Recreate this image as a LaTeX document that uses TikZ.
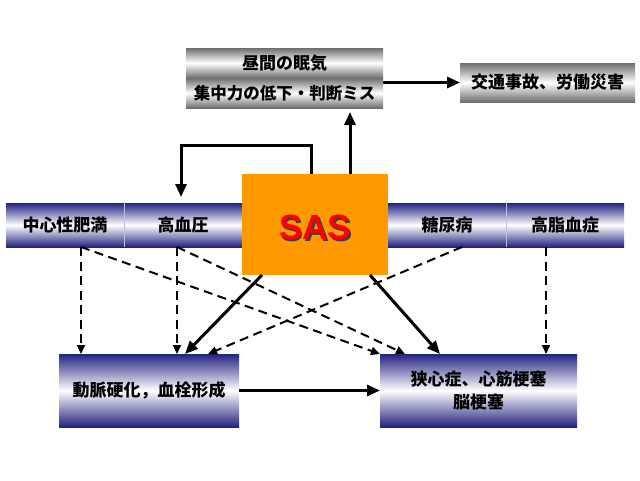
\documentclass[tikz,border=0pt]{standalone}
\usepackage{fontspec}
\setmainfont{Liberation Sans}
\newfontfamily\cjk{Noto Sans CJK JP}
\usetikzlibrary{arrows.meta,calc}
\definecolor{navy}{RGB}{34,34,128}
\definecolor{metal}{RGB}{110,110,110}
\definecolor{sasorange}{RGB}{255,153,0}
\definecolor{divider}{RGB}{190,190,225}
\begin{document}
\begin{tikzpicture}[x=1pt,y=-1pt,
  jtext/.style={font=\cjk\bfseries\fontsize{17}{23}\selectfont, text=black},
  metalbox/.style={rectangle, inner sep=0pt, outer sep=0pt, top color=metal, bottom color=metal, middle color=white, jtext},
  navybox/.style={rectangle, inner sep=0pt, outer sep=0pt, top color=navy, bottom color=navy, middle color=white, jtext},
  sasbox/.style={rectangle, inner sep=0pt, outer sep=0pt, fill=sasorange},
  bigarrow/.style={line width=3pt, -{Triangle[length=13pt,width=11pt]}},
  dasharrow/.style={line width=2pt, dash pattern=on 9pt off 5.5pt, -{Triangle[length=9pt,width=8pt]}},
  divline/.style={draw=divider, line width=0.7pt}
]
\useasboundingbox (0,0) rectangle (640,480);
\fill[white] (0,0) rectangle (640,480);

% top boxes
\node[metalbox, minimum width=197pt, minimum height=30pt] (t1) at (284.5,63) {昼間の眠気};
\node[metalbox, minimum width=197pt, minimum height=30pt] (t2) at (284.5,93) {\fontsize{16.5}{20}\selectfont 集中力の低下・判断ミス};
\node[metalbox, minimum width=175pt, minimum height=39pt] (acc) at (547.5,82.5) {交通事故、労働災害};

% band cells
\node[navybox, minimum width=118pt, minimum height=44pt] (c1) at (65,225) {中心性肥満};
\node[navybox, minimum width=118pt, minimum height=44pt] (c2) at (183,225) {高血圧};
\node[navybox, minimum width=118pt, minimum height=44pt] (c3) at (447,225) {糖尿病};
\node[navybox, minimum width=118pt, minimum height=44pt] (c4) at (565,225) {高脂血症};
\draw[divline] (c1.north east) -- (c1.south east);
\draw[divline] (c3.north east) -- (c3.south east);

% SAS
\node[sasbox, minimum width=146pt, minimum height=101pt] (sas) at (315,224.5) {};
\node[font=\bfseries\fontsize{35}{40}\selectfont] (sastext) at ([yshift=-4pt]sas.center)
  {\makebox[0pt][l]{\raisebox{-1.8pt}{\hspace{1.8pt}\color{black!75}SAS}}\textcolor{red}{SAS}};

% bottom boxes
\node[navybox, minimum width=180pt, minimum height=73pt] (ath) at (149,390.5) {動脈硬化，血栓形成};
\node[navybox, minimum width=197pt, minimum height=73pt, align=center] (card) at (478.5,390.5) {狭心症、心筋梗塞\\脳梗塞};

% dashed connectors
\draw[dasharrow] ([xshift=16pt]c1.south) -- ([xshift=16pt]c1.south |- ath.north);
\draw[dasharrow] ([xshift=-6pt]c2.south) -- ([xshift=-6pt]c2.south |- ath.north);
\draw[dasharrow] ([xshift=16pt]c1.south) -- (card.north west);
\draw[dasharrow] ([xshift=-6pt]c2.south) -- ([xshift=-73.5pt]card.north);
\draw[dasharrow] ([xshift=15pt]c3.south) -- ([xshift=59pt]ath.north);
\draw[dasharrow] ([xshift=-19pt]c4.south) -- ([xshift=-19pt]c4.south |- card.north);

% solid connectors
\draw[bigarrow, shorten >=6pt] ([xshift=-4pt]sas.north) -- ++(0,-29) -| ([xshift=-2pt]c2.north);
\draw[bigarrow, shorten >=4pt] ([xshift=35pt]sas.north) -- ([xshift=35pt]sas.north |- t2.south);
\draw[bigarrow] (t2.east |- acc.west) -- (acc.west);
\draw[bigarrow] ([xshift=-53pt]sas.south) -- ([xshift=36pt]ath.north);
\draw[bigarrow] ([xshift=55pt]sas.south) -- ([xshift=-38.5pt]card.north);
\draw[bigarrow] (ath.east) -- (card.west);
\end{tikzpicture}
\end{document}
